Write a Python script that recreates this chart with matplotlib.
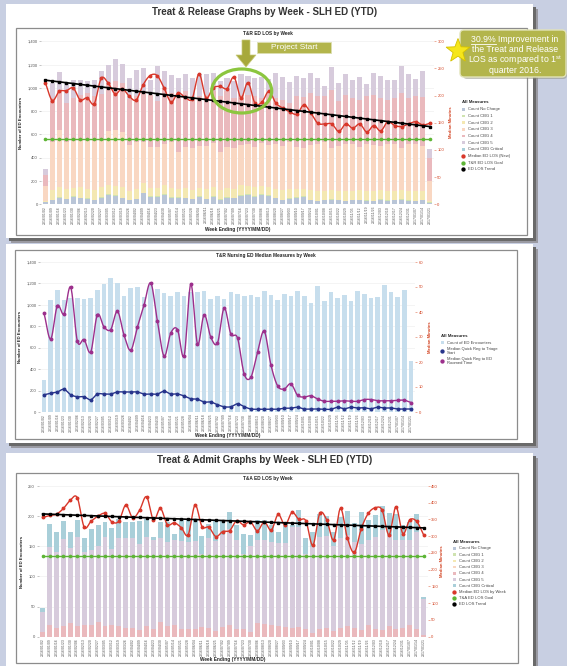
import numpy as np
import pandas as pd
import matplotlib
matplotlib.use('Agg')
import matplotlib.pyplot as plt
from matplotlib.patches import Rectangle, FancyBboxPatch, Ellipse, Polygon
from matplotlib.ticker import FuncFormatter

plt.rcParams['font.family'] = ['Liberation Sans', 'DejaVu Sans']
plt.rcParams['mathtext.fontset'] = 'custom'
plt.rcParams['mathtext.rm'] = 'Liberation Sans'

W, H = 567, 666

weeks = pd.date_range('2016-01-02', periods=56, freq='7D').strftime('%Y/%m/%d').tolist()

# Treat & Release counts by CBG level
tr_no_charge = [17, 37, 57, 43, 66, 52, 46, 37, 57, 80, 72, 52, 37, 43, 95, 66, 63, 80, 57, 57,
                52, 43, 63, 43, 66, 40, 57, 52, 75, 80, 66, 80, 75, 52, 37, 46, 57, 63, 37, 29,
                34, 40, 34, 29, 34, 37, 32, 29, 40, 32, 37, 40, 32, 29, 34, 14]
tr_cbg1 = [2, 4, 5, 4, 5, 5, 4, 4, 5, 6, 5, 5, 4, 4, 6, 5, 5, 6, 5, 5,
           5, 4, 5, 4, 5, 4, 5, 5, 6, 6, 5, 6, 6, 5, 4, 4, 5, 5, 4, 3,
           4, 4, 4, 3, 4, 4, 3, 3, 4, 3, 4, 4, 3, 3, 4, 2]
tr_cbg2 = [11, 79, 88, 83, 69, 93, 80, 79, 88, 84, 83, 93, 69, 83, 79, 69, 72, 84, 78, 68,
           83, 73, 72, 83, 79, 76, 78, 73, 85, 74, 79, 74, 69, 73, 79, 80, 68, 62, 79, 78,
           77, 76, 77, 78, 77, 79, 75, 78, 76, 75, 74, 76, 75, 78, 77, 13]
tr_cbg3 = [128, 419, 490, 409, 405, 395, 410, 420, 390, 461, 480, 467, 401, 404, 359, 356, 348, 346, 391, 323,
           356, 362, 365, 375, 375, 333, 356, 352, 345, 356, 346, 365, 361, 386, 385, 409, 366, 352, 391, 406,
           419, 362, 390, 406, 401, 368, 406, 401, 385, 406, 401, 362, 406, 406, 390, 172]
tr_cbg4 = [94, 373, 338, 330, 367, 395, 415, 387, 407, 410, 416, 424, 395, 393, 431, 445, 396, 483, 424, 474,
           474, 445, 422, 436, 445, 474, 474, 430, 430, 419, 431, 387, 444, 396, 393, 330, 431, 436, 444, 411,
           393, 502, 379, 425, 396, 410, 411, 430, 407, 382, 396, 473, 396, 411, 413, 195]
tr_cbg5 = [50, 130, 158, 173, 152, 124, 103, 137, 195, 157, 195, 163, 177, 230, 197, 129, 306, 149, 156, 159,
           147, 156, 193, 176, 162, 128, 116, 143, 176, 166, 156, 183, 118, 214, 197, 179, 174, 165, 171, 159,
           90, 195, 155, 176, 152, 197, 106, 191, 189, 166, 158, 233, 205, 149, 224, 83]
tr_median_los = [224, 191, 208, 209, 214, 192, 196, 185, 232, 223, 203, 213, 199, 192, 220, 237, 237, 214, 188, 205,
                 197, 194, 240, 196, 214, 217, 213, 234, 196, 224, 186, 188, 208, 186, 177, 170, 166, 183, 168, 149,
                 148, 148, 134, 148, 140, 148, 133, 145, 135, 152, 145, 143, 148, 152, 146, 149]
tr_goal = 120

# T&R nursing measures
ed_encounters = [302, 1042, 1136, 1042, 1064, 1064, 1058, 1064, 1142, 1198, 1251, 1204, 1083, 1157, 1167, 1070,
                 1190, 1148, 1111, 1086, 1117, 1083, 1120, 1117, 1132, 1055, 1086, 1055, 1117, 1101, 1083, 1095,
                 1073, 1126, 1095, 1048, 1101, 1083, 1126, 1086, 1017, 1179, 1039, 1117, 1064, 1095, 1033, 1132,
                 1101, 1064, 1070, 1188, 1117, 1076, 1142, 479]
reg_to_triage = [6.9, 7.5, 8.0, 9.1, 6.9, 6.1, 6.1, 4.9, 7.2, 7.2, 7.2, 8.0, 8.0, 8.0, 8.0, 7.2, 7.2, 7.2, 8.3, 7.2,
                 7.2, 6.4, 5.3, 5.1, 4.0, 4.0, 2.9, 2.1, 2.1, 3.3, 2.1, 1.2, 1.1, 1.1, 1.1, 1.1, 1.5, 1.5, 1.9, 1.2,
                 1.2, 1.2, 1.1, 1.1, 1.9, 1.3, 1.9, 1.6, 1.7, 1.3, 1.9, 1.6, 1.6, 1.2, 1.2, 1.2]
reg_to_roomed = [39.6, 29.2, 42.5, 39.2, 49.9, 28.3, 29.0, 24.0, 38.9, 34.0, 33.0, 40.3, 30.7, 24.7, 34.0, 42.9,
                 51.6, 36.3, 22.3, 31.6, 33.0, 22.5, 51.2, 27.2, 38.9, 29.9, 27.6, 41.6, 31.2, 29.6, 15.2, 13.9,
                 23.9, 32.3, 18.9, 10.5, 9.2, 11.3, 6.7, 6.0, 6.5, 5.2, 4.3, 4.3, 4.3, 4.5, 4.3, 4.3, 5.0, 5.0,
                 4.5, 4.5, 4.5, 4.7, 4.7, 3.8]

# Treat & Admit counts
ta_cbg4 = [7, 19, 14, 17, 22, 17, 20, 19, 25, 18, 19, 18, 14, 15, 11, 18, 12, 25, 18, 19,
           12, 12, 12, 16, 14, 10, 16, 20, 12, 12, 8, 22, 21, 19, 18, 16, 14, 16, 12, 6,
           12, 14, 10, 14, 17, 14, 11, 19, 12, 11, 18, 13, 14, 19, 13, 2]
ta_cbg5 = [34, 130, 127, 145, 125, 148, 121, 124, 126, 148, 126, 145, 149, 148, 142, 148, 148, 138, 139, 141,
           147, 145, 146, 122, 149, 148, 152, 158, 148, 126, 143, 139, 140, 138, 138, 140, 168, 166, 126, 143,
           154, 153, 141, 149, 151, 143, 143, 141, 154, 166, 150, 147, 146, 142, 161, 61]
ta_critical = [7, 38, 33, 30, 26, 29, 22, 35, 34, 25, 36, 33, 28, 28, 39, 30, 6, 28, 34, 11,
               37, 37, 37, 29, 24, 36, 26, 29, 25, 32, 18, 33, 33, 28, 18, 32, 4, 29, 25, 24,
               37, 34, 23, 36, 41, 32, 53, 34, 36, 40, 38, 44, 25, 30, 29, 3]
ta_median_los = [356, 362, 366, 383, 408, 415, 327, 345, 360, 368, 343, 345, 393, 355, 378, 418, 348, 383, 335, 340,
                 326, 304, 393, 329, 327, 299, 314, 317, 346, 334, 343, 316, 343, 318, 365, 333, 371, 350, 346, 273,
                 368, 349, 289, 383, 294, 252, 323, 368, 385, 378, 304, 388, 308, 349, 344, 304]
ta_goal = 240

C_NOCHG = '#b9c5d7'
C_CBG1 = '#cfe3b0'
C_CBG2 = '#f4e8b2'
C_CBG3 = '#f9d7c2'
C_CBG4 = '#eab9bd'
C_CBG5 = '#d7cbdc'
C_CRIT = '#a9cfd9'
C_RED = '#d8372a'
C_GREEN = '#5db535'
C_PURPLE = '#9c2f8c'
C_NAVY = '#27348b'
C_OLIVE = '#b3b54c'

fig = plt.figure(figsize=(W / 100, H / 100), dpi=100)
fig.patch.set_facecolor('#c8cfe2')

bg = fig.add_axes([0, 0, 1, 1], zorder=0)
bg.set_xlim(0, W)
bg.set_ylim(H, 0)
bg.axis('off')

fg = fig.add_axes([0, 0, 1, 1], zorder=10)
fg.set_xlim(0, W)
fg.set_ylim(H, 0)
fg.patch.set_alpha(0)
fg.axis('off')


def panel(x0, y0, x1, y1):
    bg.add_patch(Rectangle((x0 + 5, y0 + 5), x1 - x0, y1 - y0, fc='#9a9aa2', ec='none'))
    bg.add_patch(Rectangle((x0 + 3, y0 + 3), x1 - x0, y1 - y0, fc='#6a6a6a', ec='none'))
    bg.add_patch(Rectangle((x0, y0), x1 - x0, y1 - y0, fc='white', ec='none'))


def chart_box(x0, y0, x1, y1):
    bg.add_patch(Rectangle((x0, y0), x1 - x0, y1 - y0, fc='white', ec='#8c8c8c', lw=0.9))


def px_axes(x0, y0, x1, y1):
    ax = fig.add_axes([x0 / W, 1 - y1 / H, (x1 - x0) / W, (y1 - y0) / H], zorder=2)
    ax.patch.set_alpha(0)
    return ax


def style_axes(ax, ymax, ystep, rmax, rstep):
    n = len(weeks)
    ax.set_xlim(-0.6, n - 0.4)
    ax.set_ylim(0, ymax)
    ax.set_yticks(np.arange(0, ymax + 1, ystep))
    ax.yaxis.set_major_formatter(FuncFormatter(lambda v, p: f'{v:,.0f}'))
    ax.set_xticks(range(n))
    ax.set_xticklabels(weeks, rotation=90, fontsize=2.5, color='#555')
    ax.tick_params(axis='x', length=0, pad=1.2)
    ax.tick_params(axis='y', length=1.5, width=0.4, color='#999', labelsize=3, labelcolor='#555', pad=1)
    for s in ax.spines.values():
        s.set_visible(False)
    ax.grid(axis='y', color='#ececec', lw=0.4)
    ax.set_axisbelow(True)
    rx = ax.twinx()
    rx.set_zorder(3)
    rx.set_ylim(0, rmax)
    rx.set_yticks(np.arange(0, rmax + 1, rstep))
    rx.tick_params(axis='y', length=1.5, width=0.4, color='#e07050', labelsize=3, labelcolor='#d2401e', pad=1)
    for s in rx.spines.values():
        s.set_visible(False)
    return rx


def smooth(ys, n=10):
    # catmull-rom curve through the weekly points
    y = np.asarray(ys, float)
    x = np.arange(len(y), dtype=float)
    px = np.concatenate([[2 * x[0] - x[1]], x, [2 * x[-1] - x[-2]]])
    py = np.concatenate([[2 * y[0] - y[1]], y, [2 * y[-1] - y[-2]]])
    t = np.linspace(0, 1, n, endpoint=False)
    out_x, out_y = [], []
    for i in range(1, len(px) - 2):
        for p, out in ((px, out_x), (py, out_y)):
            p0, p1, p2, p3 = p[i - 1], p[i], p[i + 1], p[i + 2]
            out.extend(0.5 * (2 * p1 + (-p0 + p2) * t + (2 * p0 - 5 * p1 + 4 * p2 - p3) * t ** 2
                              + (-p0 + 3 * p1 - 3 * p2 + p3) * t ** 3))
    out_x.append(x[-1])
    out_y.append(y[-1])
    return out_x, out_y


def stack(ax, layers):
    x = np.arange(len(weeks))
    bottom = np.zeros(len(weeks))
    for vals, color in layers:
        ax.bar(x, vals, width=0.72, bottom=bottom, color=color, lw=0)
        bottom = bottom + np.asarray(vals)


def los_lines(rx, los, goal):
    x = np.arange(len(los))
    sx, sy = smooth(los)
    rx.plot(x, np.full(len(x), goal), color=C_GREEN, lw=1.0, marker='o', ms=1.6, zorder=3)
    coef = np.polyfit(x, los, 1)
    rx.plot(x, np.polyval(coef, x), color='black', lw=1.2, marker='s', ms=1.5, zorder=5)
    rx.plot(sx, sy, color=C_RED, lw=1.0, zorder=4)
    rx.plot(x, los, 'o', color=C_RED, ms=1.8, zorder=4)


def legend(x, y, items, steps):
    fg.text(x, y, 'All Measures', fontsize=3.2, fontweight='bold', va='center', color='#222')
    yy = y
    for (label, color, kind), step in zip(items, steps):
        yy += step
        if kind == 'sq':
            fg.add_patch(Rectangle((x + 0.4, yy - 1.3), 2.6, 2.6, fc=color, ec='none'))
        else:
            fg.plot(x + 1.7, yy, 'o', ms=2.1, color=color)
        fg.text(x + 6.2, yy, label, fontsize=3, va='center', color='#444', linespacing=0.95)


def axis_titles(left_x, right_x, mid_x, mid_y, xlab_y):
    fg.text(left_x, mid_y, 'Number of ED Encounters', rotation=90, ha='center', va='center',
            fontsize=3.1, fontweight='bold', color='#222')
    fg.text(right_x, mid_y, 'Median Minutes', rotation=90, ha='center', va='center',
            fontsize=3.1, fontweight='bold', color='#d2401e')
    fg.text(mid_x, xlab_y, 'Week Ending (YYYY/MM/DD)', ha='center', va='center',
            fontsize=3.4, fontweight='bold', color='#222')


cbg_items = [('Count No Charge', C_NOCHG, 'sq'), ('Count CBG 1', C_CBG1, 'sq'),
             ('Count CBG 2', C_CBG2, 'sq'), ('Count CBG 3', C_CBG3, 'sq'),
             ('Count CBG 4', C_CBG4, 'sq'), ('Count CBG 5', C_CBG5, 'sq'),
             ('Count CBG Critical', C_CRIT, 'sq')]

# panels
panel(6, 4, 533, 238)
panel(6, 244, 533, 443)
panel(6, 453, 533, 680)
chart_box(16, 28, 527, 235)
chart_box(15, 250, 517, 439)
chart_box(16, 473, 518, 663)

# Treat & Release
fg.text(265, 12, 'Treat & Release Graphs by Week - SLH ED (YTD)', ha='center', va='center',
        fontsize=7, fontweight='bold', color='#333')
fg.text(268, 33, 'T&R ED LOS by Week', ha='center', va='center', fontsize=3.4, fontweight='bold', color='#222')
ax1 = px_axes(41.1, 41.3, 433.9, 204.3)
rx1 = style_axes(ax1, 1400, 200, 300, 50)
stack(ax1, [(tr_no_charge, C_NOCHG), (tr_cbg1, C_CBG1), (tr_cbg2, C_CBG2), (tr_cbg3, C_CBG3),
            (tr_cbg4, C_CBG4), (tr_cbg5, C_CBG5)])
los_lines(rx1, tr_median_los, tr_goal)
axis_titles(21, 450.7, 237.5, 122.5, 230)
legend(461.7, 101.7, cbg_items + [('Median ED LOS (New)', C_RED, 'o'), ('T&R ED LOS Goal', C_GREEN, 'o'),
                                  ('ED LOS Trend', 'black', 'o')], [7.6] + [6.67] * 9)

# project start marker
fg.add_patch(Ellipse((241.7, 91), 60, 44, fill=False, ec='#8cc63f', lw=2.3))
fg.add_patch(Polygon([(242, 40), (250, 40), (250, 55), (256, 55), (246, 67), (236, 55), (242, 55)],
                     closed=True, fc='#a7a93b', ec='#c9cb7c', lw=0.5))
fg.add_patch(Rectangle((257, 42), 74, 11, fc=C_OLIVE, ec='#dcdeb0', lw=0.6))
fg.text(294, 47.7, 'Project Start', ha='center', va='center', fontsize=6, color='white')

# improvement callout
fg.add_patch(FancyBboxPatch((463, 33), 104, 46, boxstyle='round,pad=0,rounding_size=4',
                            fc='#8c8c7c', ec='none', alpha=0.5))
fg.add_patch(FancyBboxPatch((460, 30), 106, 47, boxstyle='round,pad=0,rounding_size=4',
                            fc=C_OLIVE, ec='#e2e3b8', lw=1.0))
callout = ['30.9% Improvement in', 'the Treat and Release', r'LOS as compared to 1$^{\mathrm{st}}$', 'quarter 2016.']
lines = [fg.text(515, yy, s, ha='center', va='center', fontsize=6.3, color='white')
         for s, yy in zip(callout, [40, 50, 60.5, 70.5])]
renderer = fig.canvas.get_renderer()
bb = lines[0].get_window_extent(renderer)
probe = fg.text(0, 0, '30.9%', fontsize=6.3)
pw = probe.get_window_extent(renderer).width
probe.remove()
fg.plot([bb.x0, bb.x0 + pw], [44.3, 44.3], color='white', lw=0.6)
ang = -np.pi / 2 + np.arange(10) * np.pi / 5
rad = np.where(np.arange(10) % 2 == 0, 12.5, 5.2)
fg.add_patch(Polygon(np.column_stack([458 + rad * np.cos(ang), 51 + rad * np.sin(ang)]),
                     closed=True, fc='#f6e61a', ec='#d4c000', lw=0.6))

# T&R nursing measures
fg.text(266, 255, 'T&R Nursing ED Median Measures by Week', ha='center', va='center',
        fontsize=3.4, fontweight='bold', color='#222')
ax2 = px_axes(40, 262, 415, 412)
rx2 = style_axes(ax2, 1400, 200, 60, 10)
x = np.arange(len(weeks))
ax2.bar(x, ed_encounters, width=0.7, color='#c7deed', lw=0)
sx, sy = smooth(reg_to_roomed)
rx2.plot(sx, sy, color=C_PURPLE, lw=1.0)
rx2.plot(x, reg_to_roomed, 'o', color=C_PURPLE, ms=1.8)
sx, sy = smooth(reg_to_triage)
rx2.plot(sx, sy, color=C_NAVY, lw=1.0)
rx2.plot(x, reg_to_triage, 'o', color=C_NAVY, ms=1.8)
axis_titles(20, 430, 227.5, 337, 436)
legend(440.7, 335.7, [('Count of ED Encounters', '#c7deed', 'sq'),
                      ('Median Quick Reg to Triage\nStart', C_NAVY, 'o'),
                      ('Median Quick Reg to ED\nRoomed Time', C_PURPLE, 'o')], [7, 8, 10])

# Treat & Admit
fg.text(265, 460, 'Treat & Admit Graphs by Week - SLH ED (YTD)', ha='center', va='center',
        fontsize=7, fontweight='bold', color='#333')
fg.text(268, 478.3, 'T&A ED LOS by Week', ha='center', va='center', fontsize=3.4, fontweight='bold', color='#222')
ax3 = px_axes(38.5, 486, 427.8, 636.7)
rx3 = style_axes(ax3, 250, 50, 450, 50)
stack(ax3, [(ta_cbg4, C_CBG4), (ta_cbg5, C_CBG5), (ta_critical, C_CRIT)])
los_lines(rx3, ta_median_los, ta_goal)
axis_titles(21.7, 441.7, 233, 561.5, 659.5)
legend(452.7, 542.3, cbg_items + [('Median ED LOS by Week', C_RED, 'o'), ('T&A ED LOS Goal', C_GREEN, 'o'),
                                  ('ED LOS Trend', 'black', 'o')], [6.2] * 10)

fig.savefig('out.png', dpi=100, facecolor=fig.get_facecolor())
